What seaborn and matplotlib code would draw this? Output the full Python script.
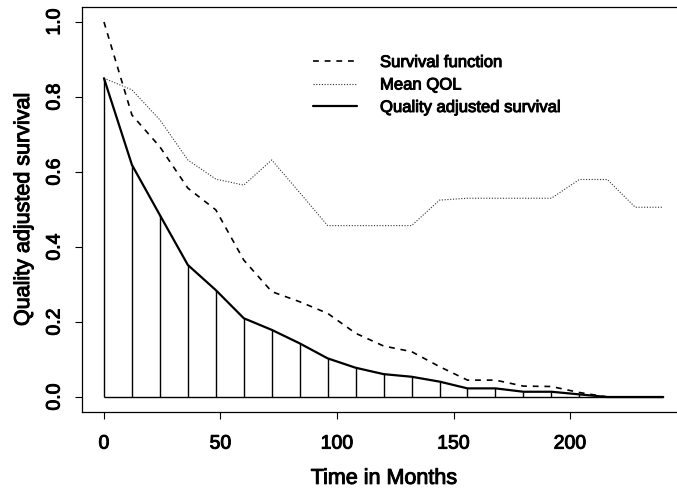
import matplotlib
matplotlib.use("Agg")
import matplotlib.pyplot as plt
import matplotlib.patheffects as pe
import seaborn as sns
import numpy as np
import pandas as pd

months = [0, 12, 24, 36, 48, 60, 72, 84, 96, 108, 120, 132, 144, 156, 168, 180, 192, 204, 216, 228, 240]
survival = [1.0, 0.752, 0.667, 0.557, 0.499, 0.365, 0.281, 0.254, 0.223, 0.170, 0.136, 0.121, 0.081, 0.045, 0.045, 0.029, 0.028, 0.012, 0.0, 0.0, 0.0]
mean_qol = [0.85, 0.819, 0.739, 0.632, 0.581, 0.565, 0.632, 0.545, 0.457, 0.457, 0.457, 0.457, 0.525, 0.53, 0.53, 0.53, 0.53, 0.58, 0.58, 0.506, 0.506]
qas = [0.85, 0.619, 0.485, 0.352, 0.285, 0.210, 0.179, 0.143, 0.103, 0.078, 0.061, 0.054, 0.041, 0.023, 0.023, 0.014, 0.014, 0.007, 0.0, 0.0, 0.0]

labels = ["Survival function", "Mean QOL", "Quality adjusted survival"]
xticks = [0, 50, 100, 150, 200]
yticks = [0.0, 0.2, 0.4, 0.6, 0.8, 1.0]

df = pd.DataFrame({"Months": months, "Survival": survival, "QOL": mean_qol, "QAS": qas})

sns.set_style("ticks")
plt.rcParams["font.family"] = ["Liberation Sans", "DejaVu Sans"]
plt.rcParams["text.color"] = "black"
plt.rcParams["axes.labelcolor"] = "black"
plt.rcParams["xtick.color"] = "black"
plt.rcParams["ytick.color"] = "black"

fig = plt.figure(figsize=(6.77, 4.88), dpi=100)
ax = fig.add_axes([81.6 / 677, 1 - 412 / 488, 604 / 677, 405 / 488])

sns.lineplot(data=df, x="Months", y="Survival", ax=ax, color="black", lw=1.2,
             linestyle=(0, (3.5, 3.5)), label=labels[0])
sns.lineplot(data=df, x="Months", y="QOL", ax=ax, color="#333333", lw=0.8,
             linestyle=(0, (1, 1.5)), label=labels[1])
sns.lineplot(data=df, x="Months", y="QAS", ax=ax, color="black", lw=1.6,
             linestyle="-", label=labels[2])
ax.vlines(df["Months"], 0, df["QAS"], color="black", lw=1.0)
ax.hlines(0, df["Months"].min(), df["Months"].max(), color="black", lw=1.0)

ax.set_xlim(-9.6, 249.6)
ax.set_ylim(-0.04, 1.04)
ax.set_xticks(xticks)
ax.set_yticks(yticks)
ax.set_xticklabels([str(t) for t in xticks], fontsize=14)
ax.set_yticklabels([f"{t:.1f}" for t in yticks], fontsize=14, rotation=90, va="center")
ax.tick_params(direction="out", length=5, width=0.8, color="black", pad=12)
ax.tick_params(axis="y", pad=8)
ax.set_xlabel("Time in Months", fontsize=15.5, labelpad=11)
ax.set_ylabel("Quality adjusted survival", fontsize=15.5, labelpad=9)
for name, s in ax.spines.items():
    s.set_visible(name != "right")
    s.set_linewidth(0.9)
    s.set_color("black")

leg = ax.legend(loc="upper left", bbox_to_anchor=(313 / 677, 1 - 55 / 488),
                bbox_transform=fig.transFigure, frameon=False, fontsize=12,
                handlelength=2.64, handletextpad=1.38, labelspacing=0.45,
                borderpad=0, borderaxespad=0)

thick = [pe.withStroke(linewidth=0.7, foreground="black")]
texts = (ax.get_xticklabels() + ax.get_yticklabels() + [ax.xaxis.label, ax.yaxis.label]
         + leg.get_texts())
for t in texts:
    t.set_path_effects(thick)

fig.savefig("out.png", dpi=100)
